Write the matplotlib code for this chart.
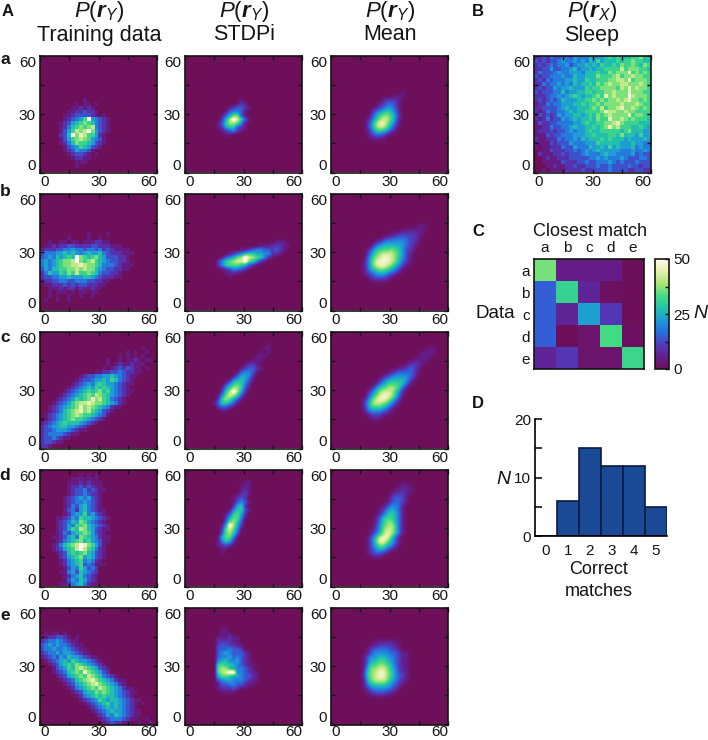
import numpy as np
import matplotlib
matplotlib.use('Agg')
import matplotlib.pyplot as plt
from matplotlib.colors import LinearSegmentedColormap

plt.rcParams['font.family'] = ['Liberation Sans', 'DejaVu Sans']
plt.rcParams['mathtext.fontset'] = 'custom'
plt.rcParams['mathtext.rm'] = 'Liberation Sans'
plt.rcParams['mathtext.it'] = 'Liberation Sans:italic'
plt.rcParams['mathtext.bf'] = 'Liberation Sans:italic:bold'

# heatmap levels, hex digit, 2 units per cell, top row first
# short rows are padded with zeros on the right
train_a = ["", "", "", "", "", "", "", "", "", "", "",
    "00000000000100", "0000000001011010", "0000000011212100", "000000011223221",
    "00000011233332101", "000000123457b54321", "000001235678764321", "000001246787894321", "000001357989b85321",
    "00000236b8a9775210", "000001357898754310", "00000124687765321", "0000001345765321", "00000012354431",
    "000000012332101", "00000000122110", "000000000111", "0000000001", ""]
train_b = ["", "", "", "", "", "", "", "", "", "",
    "000000000000100001", "0000000100001001", "00100110110111221100", "0112122332222332221110", "12223344544344342321111",
    "3444556565456556432221110", "345465676b87678653332210", "454567889b8789765433221", "4545678899a9887644432111", "35466778898988654332211",
    "246557687977876433221", "233445565556654322211", "1223344334443322110", "0112223232332221100", "0011121221211211",
    "0010111010110110", "00101001001001", "01001001", "", ""]
train_c = ["", "", "", "", "00000000000000000000000000100",
    "000000000000000000000010100100", "000000000000000000001010101", "00000000000000000100101121011", "000000000000000001012112111", "0000000000000000101232321101",
    "00000000000000112233432211", "0000000000123344556543211", "000000000123345565764321", "000000001234546765543211", "00000001234565767654321",
    "000000123456767867543211", "00000123456787987654321", "0000123457678a89764321", "000123457899a988765421", "0012345678a8987654211",
    "0012346789a89765321", "012345678987765431", "01234567877654321", "123456766654321", "2345566554321",
    "233455543211", "2344443211", "23343211", "2332110", "2210"]
train_d = ["",
    "0000000000101010", "0000000011111110", "00000001112121110", "0000000122323211", "00000001233423211",
    "0000000123343221", "00000012345453210", "00000012344543210", "00000012435643210", "000000134256432110",
    "000000124557453210", "000011235476654321", "000012346587543210", "000012354778654321", "000012357698653211",
    "00001243567875321", "000112356487654211", "000012456786754311", "0001246789ba87531", "0001235679b976421",
    "00001236767865321", "00000235678565321", "00000124567454210", "00000124567343111", "000000135475342",
    "000001145365432", "000000124564321", "000000135465321", "000001124564211"]
train_e = ["", "", "", "", "", "",
    "01011010", "1122332101", "2344543211", "34545443211", "344544543211",
    "23445455432110", "123435465543211", "0123456576554321", "00123567687654321", "000134576898765321",
    "00012346787a876532", "00001235678798764321", "0000012346789a87654211", "00000012356789a8765421", "000000012456787987654211",
    "0000000012356687876543211", "000000000124567676654321", "00000000001234576566543211", "000000000001234567565432101", "0000000000001234565654321",
    "00000000000001234565543211", "000000000000001235465432110", "0000000000000001234443211001", "00000000000000001232211001001"]

stdpi_a = ["", "", "", "", "", "", "", "", "", "", "",
    "000000000000001", "0000000000000121", "00000000000123321", "0000000000134431",
    "00000000013577310", "000000000258b9631", "00000000136887410", "00000000125663210", "000000000123421",
    "0000000000110", "", "", "", "", "", "", "", "", ""]
stdpi_b = ["", "", "", "", "", "", "", "", "", "", "", "",
    "00000000000000000000000111", "0000000000000000000111222110", "00000000000000112344332321",
    "0000000000012345665544221", "000000000134578b9876421", "000000002467899b76421", "0000000024677765321", "00000000012344321",
    "000000000011211", "0000000000010", "", "", "", "", "", "", "", ""]
stdpi_c = ["", "", "",
    "0000000000000000000001", "00000000000000000000110", "0000000000000000000101", "000000000000000000111", "00000000000000000111",
    "00000000000000012210", "00000000000000123321", "0000000000000134431", "000000000000135542", "000000000001456531",
    "00000000002467642", "00000000014688631", "000000000268b852", "0000000014798631", "000000002687531",
    "00000001366531", "0000000023321", "00000000011", "", "", "", "", "", "", "", "", ""]
stdpi_d = ["", "", "",
    "00000000000000011", "00000000000000111", "00000000000000121", "00000000000001221", "0000000000001232",
    "00000000000013431", "0000000000002562", "00000000000146631", "0000000000136752", "0000000000257741",
    "000000000037863", "00000000015b852", "000000000279741", "00000000037863", "00000000157741",
    "0000000014652", "0000000012321", "00000000011", "0000000001", "", "", "", "", "", "", "", ""]
stdpi_e = ["", "", "", "", "",
    "000000000110", "000000000111", "00000000111211", "00000000222211", "000000002332211",
    "000000003334332", "00000000345433321", "00000000344534321", "00000000456445321", "000000006766543211",
    "000000007886544321", "00000000789bb443211", "0000000057765543321", "0000000034554443211", "000000001334433211",
    "0000000012223211", "0000000001111", "", "", "", "", "", "", "", ""]

mean_a = ["", "", "", "", "", "", "", "", "",
    "0000000000000000001", "0000000000000000111", "000000000000012221", "000000000000123321", "000000000001234431", "000000000013456531",
    "000000000024677642", "000000000135788641", "000000000247997531", "00000000024788642", "00000000013565421",
    "000000000123321", "00000000001111", "", "", "", "", "", "", "", ""]
mean_b = ["", "", "", "", "", "", "", "",
    "0000000000000000000000111", "000000000000000000111111",
    "0000000000000001122222110", "00000000000001223333221", "00000000000123444443221", "0000000000134555554321", "0000000001356667654221",
    "000000000246788876421", "000000000357899875421", "000000001368999875321", "00000000136899875421", "0000000013567765421",
    "000000001234554321", "0000000001233321", "000000000011111", "", "", "", "", "", "", ""]
mean_c = ["", "", "", "",
    "000000000000000000000000011", "000000000000000000000001111", "00000000000000000000001111", "0000000000000000000001111", "000000000000000000012221",
    "00000000000000000112321", "00000000000000012333321", "0000000000000123444432", "0000000000001345555421", "000000000001346666531",
    "00000000001356787631", "0000000001357888641", "0000000002468998631", "000000001368998642", "000000002478876421",
    "00000000146665421", "0000000013444321", "000000000122211", "0000000000111", "", "", "", "", "", "", ""]
mean_d = ["", "", "",
    "0000000000000000001", "000000000000000001111", "000000000000000011211", "00000000000000012221", "00000000000000023321",
    "00000000000000123321", "0000000000000124431", "0000000000001245431", "0000000000001356531", "0000000000013566531",
    "0000000000013677531", "0000000000024678631", "0000000000124788631", "0000000000135798631", "000000000135899631",
    "000000000136997531", "000000000135775421", "00000000012455321", "000000000123321", "0000000000111", "", "", "", "", "", "", ""]
mean_e = ["", "", "", "", "", "", "", "",
    "00000000000111111", "000000000011222211",
    "000000000123333221", "00000000013444433211", "00000000134455443211", "00000000135566543211", "00000000146677653211",
    "00000000157788754211", "00000000267899764221", "00000000267899764321", "00000000157888754211", "0000000014566654321",
    "000000001244444321", "00000000012333221", "000000000011111", "", "", "", "", "", "", ""]

sleep = ["223243344354446555676766677867", "323233454454546575666767787766", "232343445345565657667687787687",
    "223353344564556566777797888776", "243334544555466676687888a78787", "323344454465566687778978898877",
    "232434445565576677788998a78887", "224344545465667687898899888987", "232335455655576778888798a89887",
    "323334464556677677889888a88877", "222344545676566787a89888b98887", "232343465556677878788989a88787",
    "122434455566767787888898889877", "2233334565566678797889a8898787", "212433445656677778a99889887777",
    "132323545566567687898888a78876", "2124233545656676877a8898787776", "132233444455676677889a87777666",
    "1122433445655667678a8977766765", "122232334545567667777767866655", "111323344455566766677686665755",
    "211222434454656667676665655565", "111132333544455576666655565544", "101122243354446556575655564544",
    "011132223343454565555544454454", "021112232333454445655444453433", "001211222333334454544454333443",
    "001111132223343344454343334333", "000112112232233343343333433233", "001011112222322333343333223322"]

match_labels = ['a', 'b', 'c', 'd', 'e']
match_counts = [[36, 5, 5, 5, 0],
                [15, 31, 7, 1, 0],
                [15, 7, 23, 10, 0],
                [15, 0, 2, 33, 1],
                [7, 10, 2, 2, 32]]
correct_bins = [0, 1, 2, 3, 4, 5]
correct_n = [0, 6, 15, 12, 12, 5]

W, H = 708, 740
fig = plt.figure(figsize=(W/100, H/100), dpi=100)
dark = '#141414'
cmap = LinearSegmentedColormap.from_list('pm', [
    (110/255, 15/255, 90/255), (100/255, 30/255, 140/255), (80/255, 60/255, 190/255),
    (40/255, 110/255, 225/255), (30/255, 155/255, 215/255), (35/255, 195/255, 170/255),
    (70/255, 220/255, 130/255), (170/255, 230/255, 120/255), (230/255, 240/255, 170/255),
    (255/255, 250/255, 240/255)])


def axes_px(x0, y0, x1, y1):
    return fig.add_axes([x0/W, 1-y1/H, (x1-x0)/W, (y1-y0)/H])


def text_px(x, y, s, **kw):
    kw.setdefault('ha', 'center')
    kw.setdefault('va', 'center')
    fig.text(x/W, 1-y/H, s, color=dark, **kw)


def to_grid(rows):
    return np.array([[int(ch, 16) for ch in r.ljust(30, '0')[:30]] for r in rows])


def heat_panel(rows, x0, y0, interp='nearest', vmax=11, xpad=1.5):
    ax = axes_px(x0, y0, x0+117, y0+116.5)
    ax.imshow(to_grid(rows), cmap=cmap, vmin=0, vmax=vmax, extent=[0, 60, 0, 60],
              aspect='auto', interpolation=interp)
    ax.set_xticks([0, 15, 30, 45, 60], ['0', '', '30', '', '60'])
    ax.set_yticks([0, 15, 30, 45, 60], ['0', '', '30', '', '60'])
    ax.tick_params(direction='in', length=3, width=1, top=True, right=True,
                   labelsize=11, colors=dark)
    ax.tick_params(axis='x', pad=xpad)
    ax.tick_params(axis='y', pad=3)
    xl = ax.get_xticklabels()
    xl[0].set_ha('left')
    xl[4].set_ha('right')
    yl = ax.get_yticklabels()
    yl[0].set_va('bottom')
    yl[4].set_va('top')
    for s in ax.spines.values():
        s.set_linewidth(1.2)
        s.set_color(dark)
    return ax


col_x = [40, 185, 331]
row_y = [56, 194, 332, 470, 608]
train = [train_a, train_b, train_c, train_d, train_e]
stdpi = [stdpi_a, stdpi_b, stdpi_c, stdpi_d, stdpi_e]
mean = [mean_a, mean_b, mean_c, mean_d, mean_e]

for i in range(5):
    # last row sits close to the bottom edge
    pad = 0 if i == 4 else 1.5
    heat_panel(train[i], col_x[0], row_y[i], xpad=pad)
    heat_panel(stdpi[i], col_x[1], row_y[i], 'bilinear', 10.5, xpad=pad)
    heat_panel(mean[i], col_x[2], row_y[i], 'bicubic', 9.5, xpad=pad)
heat_panel(sleep, 534, 56)

# column titles
p_y = r'$\mathit{P}\mathrm{(}\mathbf{r}_{\mathit{Y}}\mathrm{)}$'
p_x = r'$\mathit{P}\mathrm{(}\mathbf{r}_{\mathit{X}}\mathrm{)}$'
for x, s, p in [(99, 'Training data', p_y), (244, 'STDPi', p_y), (390, 'Mean', p_y), (592, 'Sleep', p_x)]:
    text_px(x, 12, p, fontsize=16)
    text_px(x, 35, s, fontsize=15.5)

# panel letters
for x, y, s in [(8, 11, 'A'), (478, 11, 'B'), (478, 232, 'C'), (478, 404, 'D')]:
    text_px(x, y, s, fontsize=12, fontweight='bold')
for y, s in zip([60, 192, 338, 475, 615], match_labels):
    text_px(5, y, s, fontsize=12.5, fontweight='bold')

# C: confusion matrix
ax = axes_px(534, 259, 644, 369)
im = ax.imshow(match_counts, cmap=cmap, vmin=0, vmax=50, aspect='auto')
ax.set_xticks(range(5), match_labels)
ax.set_yticks(range(5), match_labels)
ax.xaxis.tick_top()
ax.tick_params(length=0, labelsize=11, pad=3, colors=dark)
for s in ax.spines.values():
    s.set_linewidth(1.2)
    s.set_color(dark)
cax = axes_px(655, 259, 669, 369)
cb = fig.colorbar(im, cax=cax)
cb.set_ticks([0, 12.5, 25, 37.5, 50], labels=['0', '', '25', '', '50'])
cb.ax.tick_params(direction='in', length=3, width=1, labelsize=11, pad=3, colors=dark)
cb.outline.set_linewidth(1.2)
cb.outline.set_edgecolor(dark)
text_px(590, 232, 'Closest match', fontsize=13)
text_px(495, 314, 'Data', fontsize=13.5)
text_px(700, 314, 'N', fontsize=14, fontstyle='italic')

# D: histogram
ax = axes_px(535, 419, 667, 536)
ax.bar(correct_bins, correct_n, width=1, color='#1a4a96', edgecolor='#0a1a40', linewidth=1.2)
ax.set_xlim(-0.5, 5.5)
ax.set_ylim(0, 20)
ax.set_yticks([0, 5, 10, 15, 20], ['0', '', '10', '', '20'])
ax.set_xticks(correct_bins)
ax.tick_params(axis='x', length=0, labelsize=11, pad=6, colors=dark)
ax.tick_params(axis='y', direction='in', length=5, width=1.2, labelsize=11, pad=3, colors=dark)
ax.spines['top'].set_visible(False)
ax.spines['right'].set_visible(False)
ax.spines['left'].set_linewidth(1.2)
ax.spines['bottom'].set_linewidth(1.2)
text_px(599, 569, 'Correct', fontsize=13)
text_px(599, 592, 'matches', fontsize=13)
text_px(503, 479, 'N', fontsize=14, fontstyle='italic')

fig.savefig('out.png', dpi=100)
